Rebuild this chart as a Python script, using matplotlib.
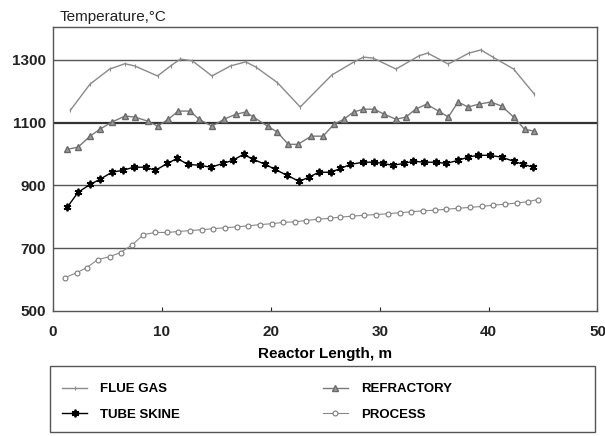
import matplotlib
matplotlib.use("Agg")
import matplotlib.pyplot as plt
from matplotlib.patches import Rectangle

matplotlib.rcParams["font.family"] = ["Liberation Sans", "DejaVu Sans"]

# Flue gas
flue_x = [1.6, 3.4, 5.2, 6.6, 7.5, 9.6, 10.8, 11.7, 12.8, 14.6, 16.3, 17.7,
          18.6, 20.6, 22.7, 25.6, 27.6, 28.5, 29.4, 31.5, 33.6, 34.4, 36.3,
          38.2, 39.3, 40.4, 42.3, 44.2]
flue_t = [1140, 1223, 1271, 1288, 1281, 1249, 1281, 1303, 1297, 1249, 1281,
          1294, 1278, 1228, 1150, 1252, 1293, 1309, 1306, 1271, 1313, 1322,
          1287, 1322, 1332, 1309, 1271, 1191]

# Refractory
refr_x = [1.3, 2.3, 3.4, 4.3, 5.4, 6.6, 7.5, 8.7, 9.6, 10.6, 11.5, 12.6, 13.4,
          14.6, 15.7, 16.8, 17.7, 18.4, 19.7, 20.6, 21.6, 22.5, 23.7, 24.8,
          25.8, 26.7, 27.6, 28.5, 29.5, 30.4, 31.5, 32.4, 33.3, 34.3, 35.4,
          36.3, 37.2, 38.1, 39.1, 40.2, 41.2, 42.3, 43.3, 44.2]
refr_t = [1015, 1022, 1057, 1079, 1102, 1121, 1118, 1105, 1089, 1111, 1137,
          1137, 1111, 1089, 1111, 1127, 1134, 1118, 1089, 1070, 1031, 1031,
          1057, 1057, 1095, 1111, 1134, 1143, 1143, 1127, 1111, 1118, 1143,
          1159, 1137, 1118, 1166, 1150, 1159, 1166, 1153, 1118, 1079, 1073]

# Tube skin
tube_x = [1.3, 2.3, 3.4, 4.3, 5.4, 6.4, 7.4, 8.5, 9.4, 10.5, 11.4, 12.4, 13.5,
          14.5, 15.6, 16.5, 17.5, 18.4, 19.5, 20.4, 21.5, 22.6, 23.5, 24.4,
          25.5, 26.4, 27.3, 28.5, 29.5, 30.3, 31.2, 32.2, 33.1, 34.1, 35.2,
          36.1, 37.2, 38.1, 39.0, 40.1, 41.2, 42.3, 43.2, 44.1]
tube_t = [830, 878, 903, 919, 942, 948, 958, 958, 948, 970, 986, 967, 964,
          958, 970, 980, 999, 983, 967, 951, 932, 913, 926, 942, 942, 954,
          967, 974, 974, 970, 964, 970, 977, 974, 974, 970, 980, 990, 996,
          996, 990, 977, 967, 958]

# Process
proc_x = [1.1, 2.2, 3.1, 4.1, 5.2, 6.2, 7.3, 8.3, 9.4, 10.5, 11.5, 12.6, 13.7,
          14.7, 15.8, 16.9, 17.9, 19.0, 20.1, 21.1, 22.2, 23.2, 24.3, 25.4,
          26.4, 27.5, 28.6, 29.7, 30.8, 31.9, 32.9, 34.0, 35.1, 36.1, 37.2,
          38.3, 39.4, 40.4, 41.5, 42.6, 43.6, 44.5]
proc_t = [606, 622, 638, 663, 673, 686, 711, 743, 750, 750, 753, 756, 759,
          762, 765, 768, 771, 775, 778, 782, 784, 788, 792, 795, 799, 802,
          805, 807, 810, 813, 816, 819, 821, 824, 827, 830, 833, 837, 840,
          844, 848, 855]

fig = plt.figure(figsize=(6.05, 4.36), dpi=100)
ax = fig.add_axes([0.0876, 0.287, 0.9, 0.651])

for yv in [700, 900, 1300]:
    ax.axhline(yv, color="#555555", lw=1.0, zorder=1)
ax.axhline(1100, color="#333333", lw=1.6, zorder=1)

ax.plot(flue_x, flue_t, color="#8a8a8a", lw=1.0, marker="|", ms=3,
        mew=0.8, label="FLUE GAS", zorder=3)
ax.plot(tube_x, tube_t, color="black", lw=1.0, marker=(6, 2, 0), ms=5.5,
        mew=1.3, label="TUBE SKINE", zorder=4)
ax.plot(refr_x, refr_t, color="#7a7a7a", lw=1.0, marker="^", ms=4,
        mfc="#9a9a9a", mec="#6a6a6a", label="REFRACTORY", zorder=3)
ax.plot(proc_x, proc_t, color="#8a8a8a", lw=0.8, marker="o", ms=3.5,
        mfc="white", mec="#7a7a7a", mew=0.8, label="PROCESS", zorder=3)

ax.set_xlim(0, 50)
ax.set_ylim(500, 1405)
ax.set_xticks([0, 10, 20, 30, 40, 50])
ax.set_yticks([500, 700, 900, 1100, 1300])
ax.tick_params(axis="x", direction="in", length=3, width=0.8, pad=10,
               labelsize=11, colors="#222222")
ax.tick_params(axis="y", length=0, pad=5, labelsize=11, colors="#222222")
for lab in ax.get_xticklabels() + ax.get_yticklabels():
    lab.set_fontweight("bold")
for sp in ax.spines.values():
    sp.set_color("#555555")
    sp.set_linewidth(1.0)

ax.set_xlabel("Reactor Length, m", fontsize=11, fontweight="bold", labelpad=6)
fig.text(0.098, 0.945, "Temperature,\u00b0C", fontsize=11, ha="left",
         va="bottom", color="#222222")

# legend box spans the full width, entries sit in two columns on the left
fig.patches.append(Rectangle((50 / 605, 1 - 432 / 436), 545 / 605, 66 / 436,
                             transform=fig.transFigure, fill=False,
                             edgecolor="#555555", lw=1.0))
leg = fig.legend(loc="upper left", bbox_to_anchor=(62 / 605, 1 - 383 / 436),
                 ncol=2, frameon=False, handlelength=1.9, handletextpad=1.0,
                 borderaxespad=0, borderpad=0, labelspacing=1.0,
                 columnspacing=10.8, prop={"weight": "bold", "size": 9.5})

fig.savefig("out.png", dpi=100)
